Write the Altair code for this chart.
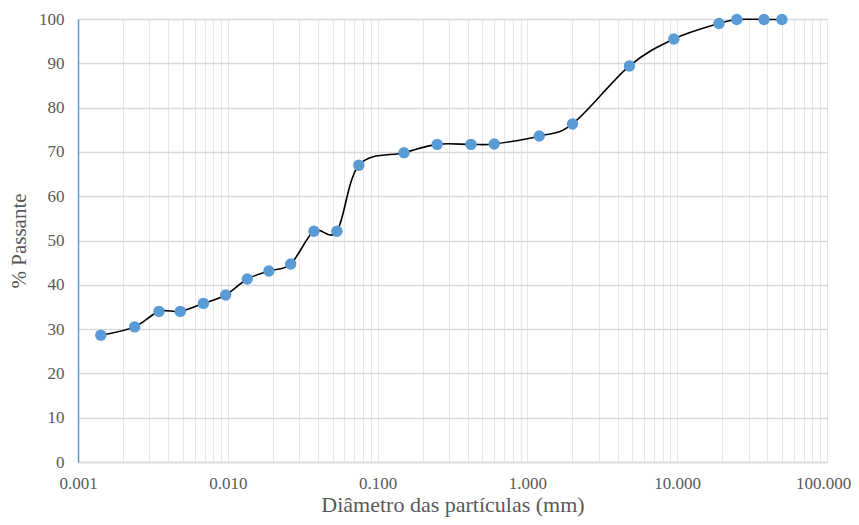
import altair as alt
import pandas as pd

# Particle diameter (mm) and % passing
diametro = [0.00142, 0.00239, 0.00347, 0.00482, 0.00687, 0.00968, 0.0135, 0.0188,
            0.0263, 0.0376, 0.0535, 0.075, 0.15, 0.25, 0.42, 0.6, 1.2, 2.0,
            4.8, 9.5, 19.0, 25.0, 38.0, 50.0]
passante = [28.6, 30.5, 34.0, 34.0, 35.8, 37.7, 41.3, 43.1,
            44.7, 52.1, 52.1, 67.0, 69.8, 71.7, 71.7, 71.8, 73.6, 76.3,
            89.4, 95.5, 99.0, 99.9, 99.9, 99.9]

x_ticks = [round(m * 10 ** e, 6) for e in range(-3, 2) for m in range(1, 10)] + [100.0]
y_ticks = [0, 10, 20, 30, 40, 50, 60, 70, 80, 90, 100]

df = pd.DataFrame({"d": diametro, "p": passante})

FONT = "Liberation Serif"
GREY = "#595959"

x_enc = alt.X(
    "d:Q",
    scale=alt.Scale(type="log", domain=[0.001, 100], nice=False),
    axis=alt.Axis(
        title="Diâmetro das partículas (mm)",
        values=x_ticks,
        labelExpr="abs(log(datum.value)/LN10 - round(log(datum.value)/LN10)) < 0.001 ? format(datum.value, '.3f') : ''",
        labelOverlap=False,
        labelFlush=False,
        labelBound=False,
        labelOffset={"expr": "datum.value >= 99 ? -4 : 0"},
        ticks=False,
        grid=True,
        gridColor="#e6e6e6",
        gridWidth=1,
        domainColor="#d9d9d9",
        domainWidth=1.5,
        labelPadding=13,
        titlePadding=3,
        titleFontSize=22,
    ),
)
y_enc = alt.Y(
    "p:Q",
    scale=alt.Scale(domain=[0, 100], nice=False),
    axis=alt.Axis(
        title="% Passante",
        values=y_ticks,
        ticks=False,
        grid=True,
        gridColor="#d9d9d9",
        gridWidth=1.5,
        domainColor="#5b9bd5",
        domainWidth=1.5,
        labelPadding=14,
        titlePadding=9,
        titleFontSize=21,
    ),
)

line = alt.Chart(df).mark_line(
    interpolate="cardinal", color="#000000", strokeWidth=1.6
).encode(x=x_enc, y=y_enc)

points = alt.Chart(df).mark_circle(
    size=130, color="#5b9bd5", opacity=1
).encode(x="d:Q", y="p:Q")

chart = (
    alt.layer(line, points)
    .properties(
        width=749,
        height=443,
        autosize=alt.AutoSizeParams(type="none"),
        padding={"left": 70, "top": 11, "right": 24, "bottom": 55},
        background="white",
    )
    .configure_view(stroke=None)
    .configure_axis(
        labelFont=FONT,
        titleFont=FONT,
        labelFontSize=17,
        labelColor=GREY,
        titleColor=GREY,
        titleFontWeight="normal",
    )
)

chart.save("out.html", embed_options={"renderer": "svg", "actions": False})
